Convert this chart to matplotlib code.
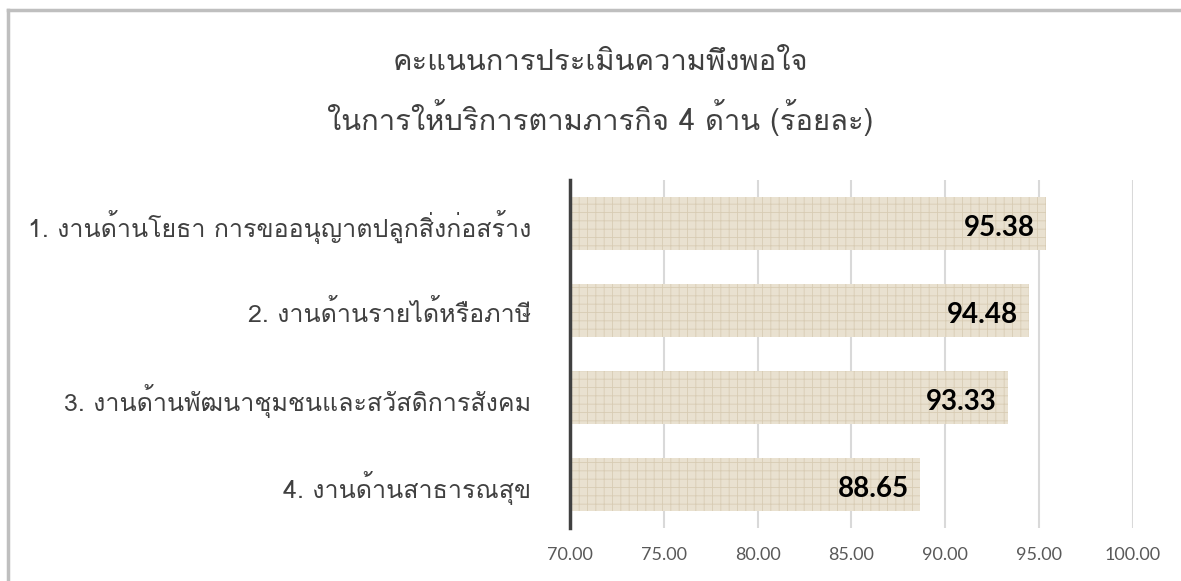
import matplotlib
matplotlib.use('Agg')
import matplotlib.pyplot as plt
from matplotlib import font_manager
from matplotlib.ft2font import FT2Font
from matplotlib.lines import Line2D

# ข้อมูล
categories = [
    '1. งานด้านโยธา การขออนุญาตปลูกสิ่งก่อสร้าง',
    '2. งานด้านรายได้หรือภาษี',
    '3. งานด้านพัฒนาชุมชนและสวัสดิการสังคม',
    '4. งานด้านสาธารณสุข',
]
scores = [95.38, 94.48, 93.33, 88.65]
x_ticks = [70, 75, 80, 85, 90, 95, 100]
title_lines = ['คะแนนการประเมินความพึงพอใจ', 'ในการให้บริการตามภารกิจ 4 ด้าน (ร้อยละ)']


def find_thai_family():
    for f in font_manager.fontManager.ttflist:
        try:
            ft = FT2Font(f.fname)
            if ft.get_char_index(ord('ก')) and ft.get_char_index(ord('ด')):
                return f.name
        except Exception:
            pass
    return None


thai = find_thai_family()
fams = ([thai] if thai else []) + ['DejaVu Sans']
plt.rcParams['font.family'] = fams
plt.rcParams['hatch.linewidth'] = 0.6

fig = plt.figure(figsize=(11.81, 5.81), dpi=100)
ax = fig.add_axes([0.4826, 0.0912, 0.4767, 0.599])

y = list(range(len(categories)))
bars = ax.barh(y, scores, left=0, height=0.6, color='#e9e1d0', linewidth=0, zorder=2)
for b in bars:
    b.set_hatch('++')
    b.set_edgecolor('#d8ccb4')

ax.set_xlim(70, 100)
ax.set_ylim(len(categories) - 0.5, -0.5)
ax.set_xticks(x_ticks)
ax.set_xticklabels([f'{v:.2f}' for v in x_ticks], fontsize=13, color='#595959',
                   family=['Lato', 'DejaVu Sans'])
ax.set_yticks(y)
ax.set_yticklabels(categories, fontsize=18, color='#404040')
ax.tick_params(axis='both', length=0)
ax.tick_params(axis='y', pad=28)
ax.tick_params(axis='x', pad=14)
ax.grid(axis='x', color='#d9d9d9', linewidth=1.5, zorder=0)
for s in ['top', 'right', 'bottom']:
    ax.spines[s].set_visible(False)
ax.spines['left'].set_color('#404040')
ax.spines['left'].set_linewidth(2.5)
ax.spines['left'].set_zorder(3)

for yi, v in zip(y, scores):
    ax.text(v - 0.6, yi + 0.05, f'{v:.2f}', ha='right', va='center',
            fontsize=20, fontweight='bold', color='black', zorder=4,
            family=['Lato', 'DejaVu Sans'])

fig.text(0.508, 0.893, title_lines[0], ha='center', va='center', fontsize=21, color='#404040')
fig.text(0.508, 0.797, title_lines[1], ha='center', va='center', fontsize=21, color='#404040')

# กรอบด้านบนและด้านซ้าย
fig.add_artist(Line2D([0.0065, 1], [0.9835, 0.9835], transform=fig.transFigure,
                      color='#bfbfbf', linewidth=2.5))
fig.add_artist(Line2D([0.0068, 0.0068], [0, 0.9835], transform=fig.transFigure,
                      color='#bfbfbf', linewidth=2.5))

fig.savefig('out.png', dpi=100)
